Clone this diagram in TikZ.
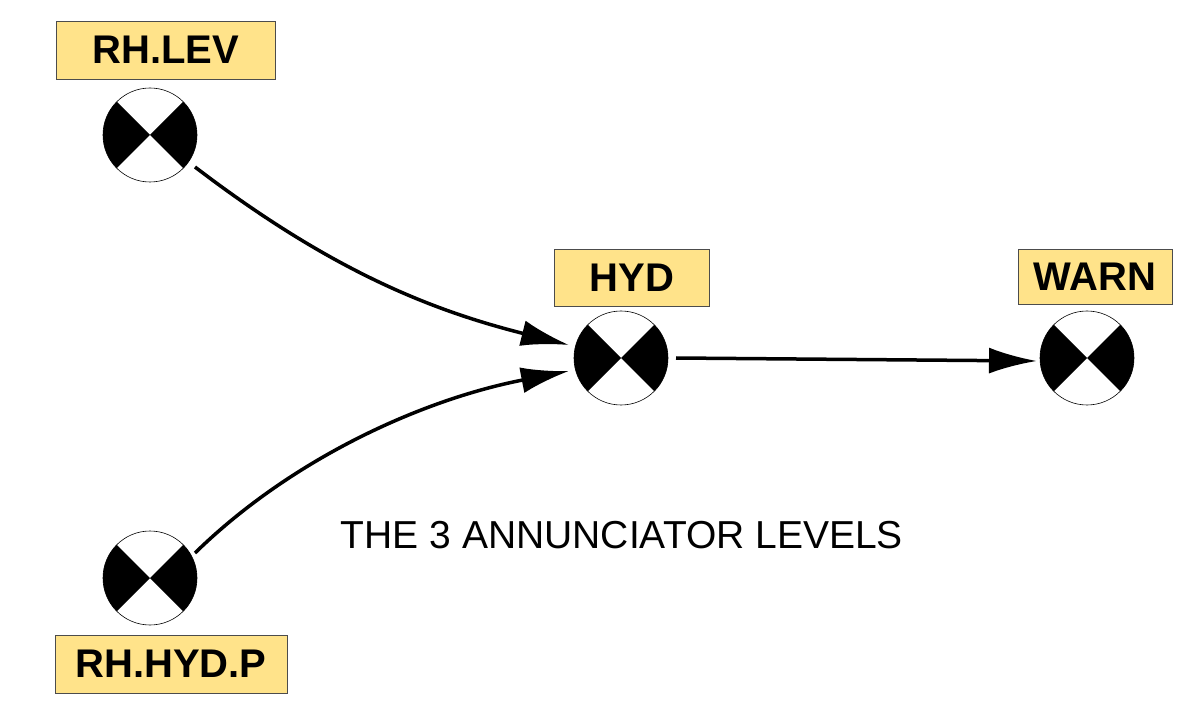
\documentclass[tikz,border=0pt]{standalone}
\usepackage{fontspec}
\setmainfont{Liberation Sans}
\usetikzlibrary{arrows.meta,calc}
\definecolor{lab}{HTML}{FFE38A}
\begin{document}
\begin{tikzpicture}[x=1pt,y=-1pt,
  lbl/.style={draw=black!70,fill=lab,font=\fontsize{40}{40}\selectfont\bfseries,inner sep=0pt,anchor=center},
  arr/.style={line width=3.5pt,-{Latex[length=48pt,width=26pt]}}]
\useasboundingbox (0,0) rectangle (1200,719);
\newcommand\annsym[3]{%
  \coordinate (#1) at (#2,#3);
  \fill[black] (#2,#3) -- ++(135:47) arc (135:225:47) -- cycle;
  \fill[black] (#2,#3) -- ++(-45:47) arc (-45:45:47) -- cycle;
  \draw[line width=0.6pt] (#2,#3) circle (47);}
\annsym{a}{150}{135}
\annsym{b}{621}{358}
\annsym{c}{1087}{358}
\annsym{d}{150}{578}
\node[lbl,minimum width=219,minimum height=58] (la) at (166,50) {RH.LEV};
\node[lbl,minimum width=155,minimum height=57] (lb) at (632,278) {HYD};
\node[lbl,minimum width=154,minimum height=55] (lc) at (1095,277) {WARN};
\node[lbl,minimum width=232,minimum height=58] (ld) at (171,664) {RH.HYD.P};
\node[font=\fontsize{39}{39}\selectfont,anchor=center] (t) at (622,535) {THE 3 ANNUNCIATOR LEVELS};
\draw[arr] ($(a)+(45,32)$) .. controls (330,270) and (430,310) .. ($(b)+(-52,-13)$);
\draw[arr] ($(d)+(45,-25)$) .. controls (290,460) and (420,400) .. ($(b)+(-52,13)$);
\draw[arr] ($(b)+(55,0)$) -- ($(c)+(-50,3)$);
\end{tikzpicture}
\end{document}
